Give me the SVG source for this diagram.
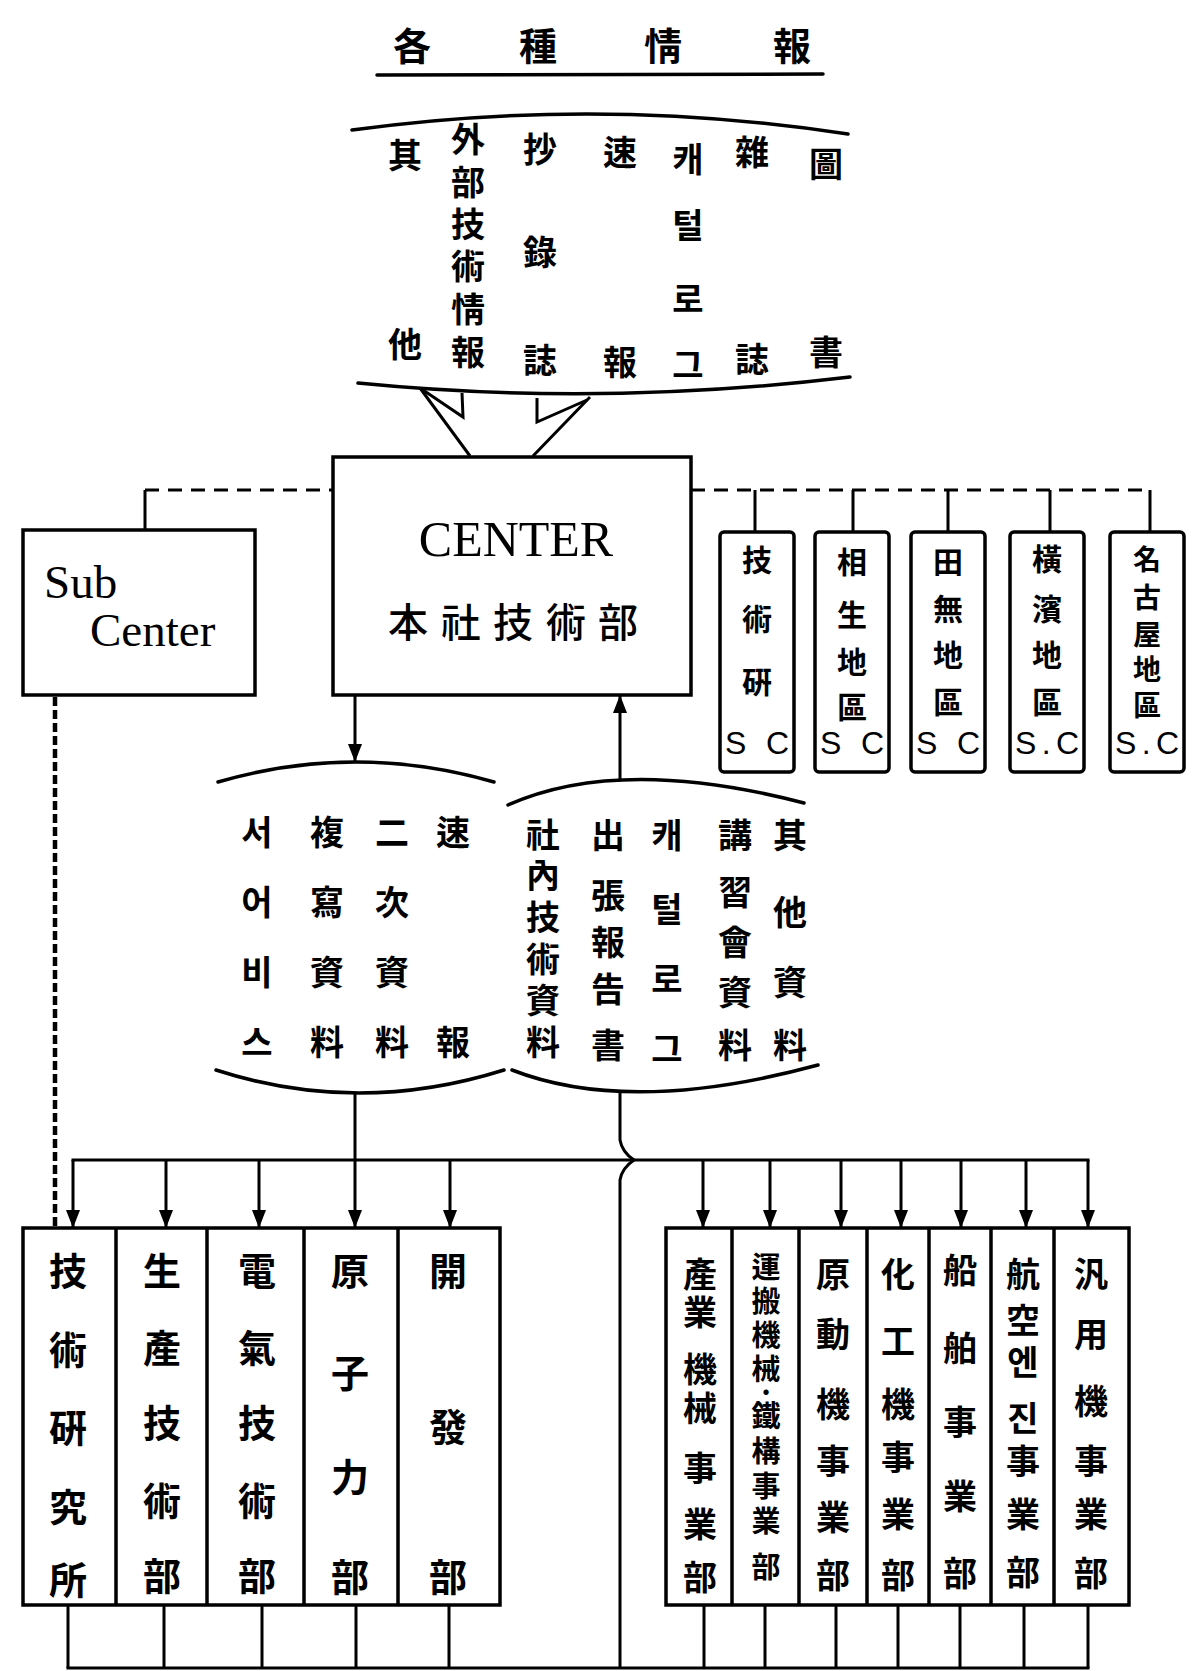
<svg xmlns="http://www.w3.org/2000/svg" width="1193" height="1671" viewBox="0 0 1193 1671">
<defs>
<style>
.ln{stroke:#000;stroke-width:3;fill:none}
.arc{stroke:#000;stroke-width:3.5;fill:none;stroke-linecap:round}
.box{fill:#fff;stroke:#000;stroke-width:3.5}
.dash{stroke-dasharray:14 9}
.dot{stroke-dasharray:9 4;stroke-width:4.5}
.cjk{font-family:"Noto Sans CJK KR","Noto Sans CJK TC",sans-serif;font-weight:700;fill:#000;text-anchor:middle;dominant-baseline:central}
.serif{font-family:"Liberation Serif",serif;fill:#000}
.sc{font-family:"Liberation Sans",sans-serif;font-size:32px;fill:#000}
</style>
<marker id="ah" markerUnits="userSpaceOnUse" markerWidth="18" markerHeight="14" refX="18" refY="7" orient="auto">
<path d="M0,0 L18,7 L0,14 z" fill="#000"/>
</marker>
</defs>
<rect width="1193" height="1671" fill="#fff"/>

<g id="title">
<text class="cjk" font-size="38" x="412 538 663 792" y="43 43 43 43">各種情報</text>
<path class="arc" d="M377,75 L823,74"/>
</g>

<g id="info-lens">
<path class="arc" d="M352,130 Q600,96 848,134"/>
<path class="arc" d="M358,383 Q600,407 850,377"/>
<text class="cjk" font-size="34" x="405 405" y="153 342">其他</text>
<text class="cjk" font-size="34" x="468 468 468 468 468 468" y="137 180 222 264 307 350">外部技術情報</text>
<text class="cjk" font-size="34" x="540 540 540" y="147 250 358">抄錄誌</text>
<text class="cjk" font-size="34" x="620 620" y="150 360">速報</text>
<text class="cjk" font-size="34" x="688 688 688 688" y="157 223 297 363">캐털로그</text>
<text class="cjk" font-size="34" x="752 752" y="150 357">雜誌</text>
<text class="cjk" font-size="34" x="826 826" y="162 350">圖書</text>
</g>

<g id="center">
<rect class="box" x="333" y="457" width="358" height="238"/>
<text class="serif" font-size="50" x="516" y="556" text-anchor="middle">CENTER</text>
<text class="cjk" font-size="40" style="font-weight:500" x="408 461 513 566 618" y="620 620 620 620 620">本社技術部</text>
</g>

<g id="sub-center">
<rect class="box" x="23" y="530" width="232" height="165"/>
<text class="serif" font-size="47" x="44" y="598">Sub</text>
<text class="serif" font-size="47" x="90" y="646">Center</text>
</g>

<g id="sc-gijutsuken">
<rect class="box" x="720" y="532" width="74" height="240" rx="4"/>
<text class="cjk" font-size="30" x="757 757 757" y="558 617 680">技術硏</text>
<text class="sc" x="725" y="754" textLength="64" lengthAdjust="spacing">S C</text>
</g>
<g id="sc-aioi">
<rect class="box" x="815" y="532" width="74" height="240" rx="4"/>
<text class="cjk" font-size="30" x="852 852 852 852" y="560 613 660 705">相生地區</text>
<text class="sc" x="820" y="754" textLength="64" lengthAdjust="spacing">S C</text>
</g>
<g id="sc-tanashi">
<rect class="box" x="911" y="532" width="74" height="240" rx="4"/>
<text class="cjk" font-size="30" x="948 948 948 948" y="560 607 653 700">田無地區</text>
<text class="sc" x="916" y="754" textLength="64" lengthAdjust="spacing">S C</text>
</g>
<g id="sc-yokohama">
<rect class="box" x="1010" y="532" width="74" height="240" rx="4"/>
<text class="cjk" font-size="30" x="1047 1047 1047 1047" y="557 607 653 700">橫濱地區</text>
<text class="sc" x="1015" y="754" textLength="64" lengthAdjust="spacing">S.C</text>
</g>
<g id="sc-nagoya">
<rect class="box" x="1110" y="532" width="74" height="240" rx="4"/>
<text class="cjk" font-size="28" x="1147 1147 1147 1147 1147" y="558 596 633 668 704">名古屋地區</text>
<text class="sc" x="1115" y="754" textLength="64" lengthAdjust="spacing">S.C</text>
</g>

<g id="out-lens">
<path class="arc" d="M218,782 Q355,742 494,782"/>
<path class="arc" d="M216,1070 Q358,1116 504,1070"/>
<text class="cjk" font-size="34" x="257 257 257 257" y="830 900 970 1040">서어비스</text>
<text class="cjk" font-size="34" x="327 327 327 327" y="830 900 970 1040">複寫資料</text>
<text class="cjk" font-size="34" x="392 392 392 392" y="830 900 970 1040">二次資料</text>
<text class="cjk" font-size="34" x="453 453" y="830 1040">速報</text>
</g>

<g id="in-lens">
<path class="arc" d="M508,805 Q620,755 804,803"/>
<path class="arc" d="M512,1070 Q630,1116 818,1065"/>
<text class="cjk" font-size="34" x="543 543 543 543 543 543" y="832 873 915 957 998 1040">社內技術資料</text>
<text class="cjk" font-size="34" x="608 608 608 608 608" y="833 893 940 987 1043">出張報告書</text>
<text class="cjk" font-size="34" x="667 667 667 667" y="833 907 977 1047">캐털로그</text>
<text class="cjk" font-size="34" x="735 735 735 735 735" y="833 890 940 990 1043">講習會資料</text>
<text class="cjk" font-size="34" x="790 790 790 790" y="833 910 980 1043">其他資料</text>
</g>

<g id="dept-left">
<rect class="box" x="23" y="1228" width="477" height="377"/>
<path class="ln" style="stroke-width:3.5" d="M116,1228V1605M207,1228V1605M304,1228V1605M398,1228V1605"/>
<text class="cjk" font-size="38" x="68 68 68 68 68" y="1268 1347 1425 1504 1577">技術硏究所</text>
<text class="cjk" font-size="38" x="162 162 162 162 162" y="1268 1345 1420 1498 1573">生產技術部</text>
<text class="cjk" font-size="38" x="257 257 257 257 257" y="1268 1345 1420 1498 1573">電氣技術部</text>
<text class="cjk" font-size="38" x="350 350 350 350" y="1268 1370 1474 1574">原子力部</text>
<text class="cjk" font-size="38" x="448 448 448" y="1268 1424 1574">開發部</text>
</g>

<g id="dept-right">
<rect class="box" x="666" y="1228" width="463" height="377"/>
<path class="ln" style="stroke-width:3.5" d="M732,1228V1605M799,1228V1605M867,1228V1605M929,1228V1605M991,1228V1605M1054,1228V1605"/>
<text class="cjk" font-size="34" x="700 700 700 700 700 700 700" y="1272 1310 1367 1406 1466 1522 1575">產業機械事業部</text>
<text class="cjk" font-size="29" x="766 766 766 766 766 766 766 766 766 766" y="1265 1299 1333 1367 1390 1414 1449 1484 1519 1565">運搬機械·鐵構事業部</text>
<text class="cjk" font-size="34" x="833 833 833 833 833 833" y="1272 1332 1402 1459 1515 1573">原動機事業部</text>
<text class="cjk" font-size="34" x="898 898 898 898 898 898" y="1272 1339 1402 1455 1512 1573">化工機事業部</text>
<text class="cjk" font-size="34" x="960 960 960 960 960" y="1268 1346 1420 1494 1571">船舶事業部</text>
<text class="cjk" font-size="34" x="1023 1023 1023 1023 1023 1023 1023" y="1272 1318 1360 1416 1459 1512 1570">航空엔진事業部</text>
<text class="cjk" font-size="34" x="1091 1091 1091 1091 1091 1091" y="1272 1332 1399 1459 1512 1571">汎用機事業部</text>
</g>

<g id="connectors">
<path class="ln" d="M420,388 L470,456 M590,397 L533,456"/>
<path class="ln" d="M423,390 L463,417 L462,393 M537,398 L537,422 L587,400"/>
<path class="ln" d="M145,530 V490"/>
<path class="ln dash" d="M145,490 H333"/>
<path class="ln dash" d="M691,490 H1150"/>
<path class="ln" d="M755,490V532 M853,490V532 M948,490V532 M1050,490V532 M1150,490V532"/>
<path class="ln" d="M355,695 V762" marker-end="url(#ah)"/>
<path class="ln" d="M620,780 V695" marker-end="url(#ah)"/>
<path class="ln dot" d="M55,697 V1228"/>
<path class="ln" d="M73,1160 H1088" stroke-linecap="square"/>
<path class="ln" d="M73,1160V1228" marker-end="url(#ah)"/>
<path class="ln" d="M166,1160V1228" marker-end="url(#ah)"/>
<path class="ln" d="M259,1160V1228" marker-end="url(#ah)"/>
<path class="ln" d="M450,1160V1228" marker-end="url(#ah)"/>
<path class="ln" d="M703,1160V1228" marker-end="url(#ah)"/>
<path class="ln" d="M770,1160V1228" marker-end="url(#ah)"/>
<path class="ln" d="M841,1160V1228" marker-end="url(#ah)"/>
<path class="ln" d="M901,1160V1228" marker-end="url(#ah)"/>
<path class="ln" d="M961,1160V1228" marker-end="url(#ah)"/>
<path class="ln" d="M1026,1160V1228" marker-end="url(#ah)"/>
<path class="ln" d="M1088,1160V1228" marker-end="url(#ah)"/>
<path class="ln" d="M355,1093 V1228" marker-end="url(#ah)"/>
<path class="ln" d="M620,1093 V1140 Q622,1152 634,1160 Q622,1168 620,1180 V1668"/>
<path class="ln" d="M68,1605V1668 M164,1605V1668 M262,1605V1668 M356,1605V1668 M449,1605V1668 M704,1605V1668 M765,1605V1668 M836,1605V1668 M898,1605V1668 M960,1605V1668 M1024,1605V1668 M1088,1605V1668"/>
<path class="ln" d="M68,1668 H1088" stroke-linecap="square"/>
</g>
</svg>
